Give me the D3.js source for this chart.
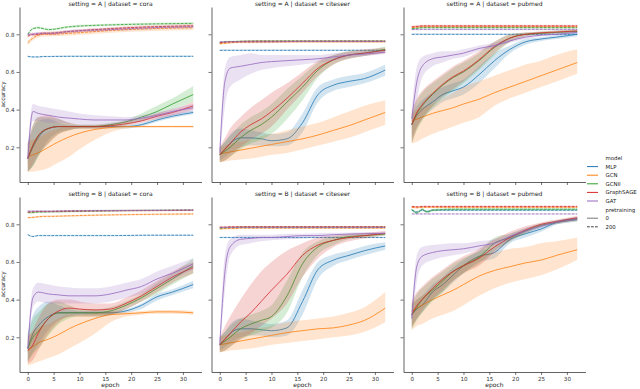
<!DOCTYPE html>
<html>
<head>
<meta charset="utf-8">
<script src="https://cdn.jsdelivr.net/npm/d3@7"></script>
<style>
  body { margin: 0; background: #fff; }
  svg { font-family: "DejaVu Sans", sans-serif; }
</style>
</head>
<body>
<div id="chart"></div>
<script>
// epochs sampled for pretraining = 0 (solid) and 200 (dashed)
const E = [0, 1, 2, 4, 6, 8, 10, 13, 16, 19, 22, 25, 28, 32];
const PE = [0, 1, 2, 3, 4, 8, 16, 24, 32];
const models = ["MLP", "GCN", "GCNII", "GraphSAGE", "GAT"];
const colors = ["#1f77b4", "#ff7f0e", "#2ca02c", "#d62728", "#9467bd"];
const pretraining = ["0", "200"];
const xTicks = [0, 5, 10, 15, 20, 25, 30];
const yTicks = [0.2, 0.4, 0.6, 0.8];

// setting A | cora
const coraA_mean = [
  [.14,.20,.25,.30,.31,.31,.31,.31,.31,.31,.32,.345,.365,.385],
  [.15,.16,.17,.20,.23,.255,.275,.295,.305,.31,.31,.31,.31,.31],
  [.14,.21,.26,.30,.31,.31,.31,.31,.32,.335,.36,.39,.43,.48],
  [.14,.21,.26,.30,.31,.31,.31,.31,.315,.325,.34,.365,.385,.42],
  [.14,.39,.38,.37,.36,.355,.35,.345,.345,.345,.355,.37,.39,.41]
];
const coraA_lo = [
  [.07,.10,.15,.24,.28,.295,.30,.30,.30,.30,.31,.335,.355,.375],
  [.07,.07,.075,.09,.12,.15,.19,.24,.28,.30,.305,.305,.305,.305],
  [.07,.10,.15,.22,.27,.29,.30,.30,.31,.32,.34,.37,.40,.44],
  [.07,.11,.16,.22,.27,.29,.30,.30,.305,.315,.33,.35,.37,.40],
  [.10,.34,.34,.33,.33,.325,.32,.32,.32,.33,.34,.355,.37,.39]
];
const coraA_hi = [
  [.22,.30,.34,.35,.33,.32,.32,.32,.32,.32,.33,.355,.375,.395],
  [.23,.24,.25,.28,.30,.31,.31,.315,.315,.315,.315,.315,.315,.315],
  [.22,.32,.36,.36,.35,.33,.32,.32,.33,.345,.38,.42,.46,.525],
  [.22,.32,.36,.37,.35,.33,.32,.32,.325,.34,.355,.38,.40,.44],
  [.20,.43,.42,.41,.40,.39,.38,.37,.365,.36,.37,.385,.405,.43]
];
const coraA_pre = [
  [.683,.68,.68,.682,.682,.683,.683,.683,.683],
  [.755,.78,.795,.80,.80,.805,.82,.83,.835],
  [.80,.83,.835,.83,.825,.84,.85,.855,.858],
  [.79,.80,.80,.805,.805,.815,.83,.84,.845],
  [.80,.80,.805,.805,.805,.815,.825,.835,.84]
];
const coraA_preCI = [.004, .012, .006, .008, .008];

// setting A | citeseer
const citeseerA_mean = [
  [.16,.19,.22,.25,.25,.245,.235,.245,.33,.48,.53,.55,.565,.61],
  [.165,.17,.175,.185,.195,.205,.215,.23,.245,.265,.29,.315,.345,.385],
  [.16,.18,.20,.25,.29,.32,.36,.44,.52,.61,.665,.69,.70,.72],
  [.16,.19,.22,.28,.32,.35,.39,.46,.54,.62,.665,.69,.70,.715],
  [.17,.55,.62,.63,.64,.65,.655,.66,.665,.67,.68,.69,.695,.705]
];
const citeseerA_lo = [
  [.13,.15,.17,.20,.21,.21,.205,.21,.28,.44,.50,.52,.54,.58],
  [.12,.125,.13,.135,.14,.15,.16,.17,.19,.21,.23,.25,.28,.32],
  [.12,.13,.15,.19,.22,.24,.27,.35,.45,.57,.64,.67,.685,.705],
  [.12,.13,.15,.20,.24,.27,.31,.40,.49,.58,.64,.67,.685,.70],
  [.13,.42,.52,.56,.59,.61,.62,.63,.64,.65,.66,.675,.685,.695]
];
const citeseerA_hi = [
  [.20,.23,.27,.30,.29,.28,.27,.28,.38,.52,.56,.58,.595,.64],
  [.20,.21,.22,.23,.24,.26,.27,.29,.31,.33,.36,.39,.42,.45],
  [.20,.23,.26,.32,.36,.39,.43,.51,.58,.65,.69,.71,.715,.735],
  [.20,.25,.30,.36,.41,.45,.49,.54,.60,.66,.69,.71,.72,.73],
  [.22,.62,.68,.69,.70,.69,.69,.69,.69,.69,.70,.705,.71,.715]
];
const citeseerA_pre = [
  [.715,.715,.715,.715,.715,.715,.715,.715,.715],
  [.75,.752,.755,.757,.757,.758,.76,.76,.76],
  [.755,.76,.762,.762,.763,.765,.765,.765,.765],
  [.755,.758,.76,.76,.762,.763,.763,.763,.763],
  [.76,.76,.76,.76,.76,.76,.762,.762,.762]
];
const citeseerA_preCI = [.004, .005, .004, .004, .004];

// setting A | pubmed
const pubmedA_mean = [
  [.32,.37,.40,.44,.48,.50,.52,.585,.66,.72,.76,.775,.785,.80],
  [.34,.35,.36,.38,.395,.41,.43,.455,.49,.52,.55,.58,.61,.65],
  [.32,.38,.42,.48,.53,.57,.60,.66,.73,.78,.80,.805,.81,.815],
  [.32,.385,.425,.485,.535,.575,.605,.665,.735,.78,.80,.808,.812,.818],
  [.35,.55,.63,.67,.68,.69,.70,.725,.74,.765,.785,.795,.80,.81]
];
const pubmedA_lo = [
  [.25,.31,.35,.40,.44,.46,.48,.54,.62,.70,.745,.765,.775,.79],
  [.22,.23,.245,.27,.29,.31,.33,.36,.42,.46,.49,.52,.55,.59],
  [.22,.29,.34,.41,.46,.50,.54,.61,.69,.76,.79,.80,.805,.81],
  [.22,.30,.35,.42,.47,.51,.55,.62,.70,.76,.79,.80,.805,.81],
  [.31,.45,.57,.63,.65,.67,.68,.71,.73,.755,.775,.79,.795,.805]
];
const pubmedA_hi = [
  [.36,.42,.45,.49,.52,.54,.56,.63,.70,.74,.775,.785,.795,.81],
  [.38,.40,.41,.43,.46,.49,.52,.55,.58,.61,.64,.66,.69,.72],
  [.38,.45,.49,.54,.58,.62,.65,.70,.76,.80,.81,.815,.82,.825],
  [.39,.46,.50,.55,.59,.63,.66,.71,.76,.80,.81,.815,.82,.825],
  [.40,.63,.68,.70,.71,.71,.72,.74,.755,.775,.795,.80,.81,.815]
];
const pubmedA_pre = [
  [.80,.80,.80,.80,.80,.80,.80,.80,.80],
  [.835,.838,.84,.84,.84,.84,.84,.84,.84],
  [.83,.832,.835,.835,.835,.835,.835,.835,.835],
  [.84,.842,.845,.845,.845,.845,.845,.845,.845],
  [.825,.826,.826,.826,.826,.826,.826,.826,.826]
];
const pubmedA_preCI = [.004, .005, .004, .006, .004];

// setting B | cora
const coraB_mean = [
  [.14,.22,.26,.31,.33,.33,.33,.33,.33,.34,.37,.415,.44,.48],
  [.13,.15,.17,.19,.215,.245,.27,.30,.32,.325,.33,.335,.335,.33],
  [.14,.20,.23,.30,.33,.33,.33,.33,.34,.37,.41,.46,.51,.58],
  [.13,.16,.22,.30,.34,.355,.35,.345,.35,.38,.42,.47,.52,.57],
  [.14,.41,.44,.43,.425,.42,.42,.42,.43,.45,.47,.51,.54,.59]
];
const coraB_lo = [
  [.07,.12,.16,.24,.29,.31,.32,.32,.32,.33,.35,.395,.425,.46],
  [.05,.06,.07,.09,.11,.14,.17,.22,.28,.31,.32,.325,.325,.32],
  [.07,.11,.14,.21,.27,.30,.31,.31,.32,.35,.39,.43,.48,.54],
  [.06,.08,.13,.22,.28,.31,.31,.31,.32,.35,.39,.44,.49,.54],
  [.10,.36,.39,.38,.38,.38,.38,.38,.39,.41,.43,.47,.51,.56]
];
const coraB_hi = [
  [.22,.32,.36,.39,.37,.35,.34,.34,.34,.35,.38,.43,.455,.50],
  [.21,.23,.25,.27,.30,.32,.32,.33,.335,.335,.34,.345,.345,.34],
  [.22,.30,.33,.38,.39,.37,.35,.35,.36,.39,.43,.49,.54,.62],
  [.20,.24,.30,.38,.40,.40,.39,.38,.38,.41,.45,.50,.55,.60],
  [.19,.46,.49,.48,.47,.465,.46,.46,.47,.49,.51,.55,.58,.62]
];
const coraB_pre = [
  [.745,.735,.74,.74,.74,.74,.74,.742,.742],
  [.835,.837,.84,.842,.842,.845,.85,.853,.855],
  [.862,.862,.865,.865,.866,.868,.872,.874,.875],
  [.865,.867,.868,.868,.868,.87,.872,.873,.875],
  [.87,.87,.87,.87,.87,.872,.873,.874,.876]
];
const coraB_preCI = [.004, .005, .005, .004, .004];

// setting B | citeseer
const citeseerB_mean = [
  [.16,.19,.22,.245,.245,.24,.235,.25,.39,.56,.61,.635,.66,.685],
  [.16,.165,.17,.18,.19,.20,.21,.225,.235,.245,.25,.265,.29,.355],
  [.16,.18,.20,.245,.27,.29,.31,.42,.59,.68,.715,.735,.74,.748],
  [.16,.19,.22,.28,.33,.39,.45,.535,.635,.69,.715,.73,.74,.752],
  [.16,.55,.68,.72,.725,.73,.73,.735,.74,.74,.745,.748,.75,.752]
];
const citeseerB_lo = [
  [.13,.15,.17,.20,.21,.21,.20,.21,.32,.51,.58,.61,.635,.665],
  [.12,.125,.13,.135,.14,.15,.16,.17,.18,.19,.20,.21,.23,.28],
  [.12,.13,.15,.19,.21,.23,.25,.33,.52,.64,.69,.72,.73,.74],
  [.12,.13,.15,.19,.22,.26,.30,.38,.52,.62,.68,.71,.725,.74],
  [.13,.45,.63,.69,.70,.71,.715,.72,.725,.73,.735,.74,.745,.747]
];
const citeseerB_hi = [
  [.20,.23,.27,.30,.29,.28,.27,.29,.45,.60,.64,.66,.685,.705],
  [.20,.21,.215,.225,.24,.25,.26,.28,.29,.30,.31,.33,.36,.44],
  [.20,.23,.26,.30,.32,.34,.37,.50,.65,.71,.735,.745,.75,.755],
  [.20,.26,.31,.40,.48,.55,.60,.66,.70,.73,.74,.75,.755,.765],
  [.20,.64,.72,.745,.745,.745,.745,.75,.75,.752,.755,.757,.758,.76]
];
const citeseerB_pre = [
  [.73,.73,.73,.73,.73,.73,.73,.73,.73],
  [.775,.777,.778,.778,.78,.78,.78,.78,.78],
  [.78,.782,.783,.783,.785,.785,.785,.785,.785],
  [.785,.785,.787,.787,.787,.787,.787,.787,.787],
  [.783,.783,.783,.783,.783,.783,.783,.783,.783]
];
const citeseerB_preCI = [.004, .005, .004, .004, .004];

// setting B | pubmed
const pubmedB_mean = [
  [.32,.35,.37,.44,.48,.53,.58,.63,.65,.72,.75,.775,.81,.83],
  [.34,.355,.37,.40,.425,.45,.48,.525,.555,.575,.595,.61,.635,.665],
  [.32,.36,.40,.45,.50,.55,.58,.625,.70,.73,.765,.795,.81,.825],
  [.32,.37,.40,.46,.51,.55,.58,.62,.68,.73,.77,.80,.815,.835],
  [.30,.58,.63,.65,.66,.665,.67,.685,.70,.735,.765,.79,.81,.825]
];
const pubmedB_lo = [
  [.26,.30,.33,.40,.44,.49,.54,.60,.62,.70,.73,.76,.80,.82],
  [.24,.26,.27,.30,.32,.34,.37,.42,.46,.49,.51,.53,.56,.61],
  [.24,.29,.33,.39,.44,.50,.54,.59,.66,.71,.75,.785,.80,.815],
  [.25,.30,.34,.40,.45,.50,.54,.58,.65,.71,.755,.79,.805,.825],
  [.27,.50,.58,.61,.625,.635,.645,.665,.685,.72,.755,.78,.80,.815]
];
const pubmedB_hi = [
  [.37,.40,.42,.48,.52,.57,.61,.66,.68,.74,.77,.79,.82,.84],
  [.38,.40,.42,.46,.51,.55,.59,.63,.65,.67,.68,.70,.71,.73],
  [.38,.43,.46,.51,.55,.59,.62,.66,.73,.75,.78,.805,.82,.835],
  [.39,.44,.47,.52,.56,.60,.63,.67,.72,.76,.79,.81,.825,.845],
  [.35,.64,.68,.69,.695,.70,.70,.71,.72,.75,.78,.80,.82,.835]
];
const pubmedB_pre = [
  [.875,.865,.875,.868,.875,.875,.875,.875,.875],
  [.89,.888,.89,.89,.89,.89,.89,.89,.89],
  [.88,.86,.88,.865,.875,.88,.88,.88,.88],
  [.895,.893,.895,.895,.895,.895,.895,.895,.895],
  [.855,.855,.855,.855,.855,.855,.855,.855,.855]
];
const pubmedB_preCI = [.005, .004, .007, .004, .003];

const panels = [
  { setting: "A", dataset: "cora", mean: coraA_mean, lo: coraA_lo, hi: coraA_hi, pre: coraA_pre, preCI: coraA_preCI },
  { setting: "A", dataset: "citeseer", mean: citeseerA_mean, lo: citeseerA_lo, hi: citeseerA_hi, pre: citeseerA_pre, preCI: citeseerA_preCI },
  { setting: "A", dataset: "pubmed", mean: pubmedA_mean, lo: pubmedA_lo, hi: pubmedA_hi, pre: pubmedA_pre, preCI: pubmedA_preCI },
  { setting: "B", dataset: "cora", mean: coraB_mean, lo: coraB_lo, hi: coraB_hi, pre: coraB_pre, preCI: coraB_preCI },
  { setting: "B", dataset: "citeseer", mean: citeseerB_mean, lo: citeseerB_lo, hi: citeseerB_hi, pre: citeseerB_pre, preCI: citeseerB_preCI },
  { setting: "B", dataset: "pubmed", mean: pubmedB_mean, lo: pubmedB_lo, hi: pubmedB_hi, pre: pubmedB_pre, preCI: pubmedB_preCI }
];

const width = 640;
const height = 389;
const panelW = 182;
const panelH = 175;
const lefts = [19.5, 211.5, 403.5];
const tops = [7, 197];
const axisColor = "#3a3a3a";

const svg = d3.select("#chart")
  .append("svg")
  .attr("width", width)
  .attr("height", height);

const x = d3.scaleLinear().domain([-1.6, 33.6]).range([0, panelW]);
const y = d3.scaleLinear().domain([0.0156, 0.945]).range([panelH, 0]);

panels.forEach((p, k) => {
  const row = Math.floor(k / 3);
  const col = k % 3;
  const g = svg.append("g")
    .attr("transform", `translate(${lefts[col]}, ${tops[row]})`);

  const marks = g.append("g");

  // bands and lines, per model: pretraining 0 (solid) then 200 (dashed)
  models.forEach((m, i) => {
    const band = d3.area()
      .x((d, j) => x(E[j]))
      .y0((d, j) => y(p.lo[i][j]))
      .y1((d, j) => y(p.hi[i][j]))
      .curve(d3.curveMonotoneX);
    const line = d3.line()
      .x((d, j) => x(E[j]))
      .y(d => y(d))
      .curve(d3.curveMonotoneX);

    marks.append("path")
      .attr("d", band(p.mean[i]))
      .attr("fill", colors[i])
      .attr("fill-opacity", 0.2)
      .attr("stroke", "none");
    marks.append("path")
      .attr("d", line(p.mean[i]))
      .attr("fill", "none")
      .attr("stroke", colors[i])
      .attr("stroke-width", 0.8);

    const ci = p.preCI[i];
    const preBand = d3.area()
      .x((d, j) => x(PE[j]))
      .y0(d => y(d - ci))
      .y1(d => y(d + ci))
      .curve(d3.curveMonotoneX);
    const preLine = d3.line()
      .x((d, j) => x(PE[j]))
      .y(d => y(d))
      .curve(d3.curveMonotoneX);

    marks.append("path")
      .attr("d", preBand(p.pre[i]))
      .attr("fill", colors[i])
      .attr("fill-opacity", 0.2);
    marks.append("path")
      .attr("d", preLine(p.pre[i]))
      .attr("fill", "none")
      .attr("stroke", colors[i])
      .attr("stroke-width", 0.8)
      .attr("stroke-dasharray", "2.8,1.2");
  });

  // axes
  const yAxis = d3.axisLeft(y)
    .tickValues(yTicks)
    .tickSize(3)
    .tickSizeOuter(0)
    .tickPadding(2)
    .tickFormat(col === 0 ? d3.format(".1f") : () => "");
  const xAxis = d3.axisBottom(x)
    .tickValues(xTicks)
    .tickSize(3)
    .tickSizeOuter(0)
    .tickPadding(2)
    .tickFormat(row === 1 ? d3.format("d") : () => "");

  const ya = g.append("g").call(yAxis);
  const xa = g.append("g").attr("transform", `translate(0, ${panelH})`).call(xAxis);
  [ya, xa].forEach(a => {
    a.select(".domain").attr("stroke", axisColor).attr("stroke-width", 0.8);
    a.selectAll(".tick line").attr("stroke", axisColor).attr("stroke-width", 0.7);
    a.selectAll(".tick text")
      .attr("fill", "#333")
      .style("font-size", "5.6px")
      .style("font-family", "DejaVu Sans, sans-serif");
  });

  // facet title
  g.append("text")
    .attr("x", panelW / 2)
    .attr("y", -1.5)
    .attr("text-anchor", "middle")
    .attr("fill", "#222")
    .style("font-size", "6px")
    .text(`setting = ${p.setting} | dataset = ${p.dataset}`);

  if (col === 0) {
    g.append("text")
      .attr("transform", `translate(${-14.8}, ${panelH / 2}) rotate(-90)`)
      .attr("text-anchor", "middle")
      .attr("fill", "#222")
      .style("font-size", "5.8px")
      .text("accuracy");
  }
  if (row === 1) {
    g.append("text")
      .attr("x", panelW / 2)
      .attr("y", panelH + 15)
      .attr("text-anchor", "middle")
      .attr("fill", "#222")
      .style("font-size", "6px")
      .text("epoch");
  }
});

// legend
const legend = svg.append("g").attr("transform", "translate(586, 158)");
const legendRows = [
  { label: "model", title: true },
  ...models.map((m, i) => ({ label: m, color: colors[i], dash: null })),
  { label: "pretraining", title: true },
  { label: pretraining[0], color: "#777", dash: null },
  { label: pretraining[1], color: "#444", dash: "2.8,1.2" }
];
legendRows.forEach((r, i) => {
  const ly = i * 8.6;
  if (!r.title) {
    legend.append("line")
      .attr("x1", 1).attr("x2", 12)
      .attr("y1", ly).attr("y2", ly)
      .attr("stroke", r.color)
      .attr("stroke-width", 1)
      .attr("stroke-dasharray", r.dash);
  }
  legend.append("text")
    .attr("x", 19.5)
    .attr("y", ly + 2)
    .attr("fill", "#222")
    .style("font-size", "5.4px")
    .text(r.label);
});
</script>
</body>
</html>
